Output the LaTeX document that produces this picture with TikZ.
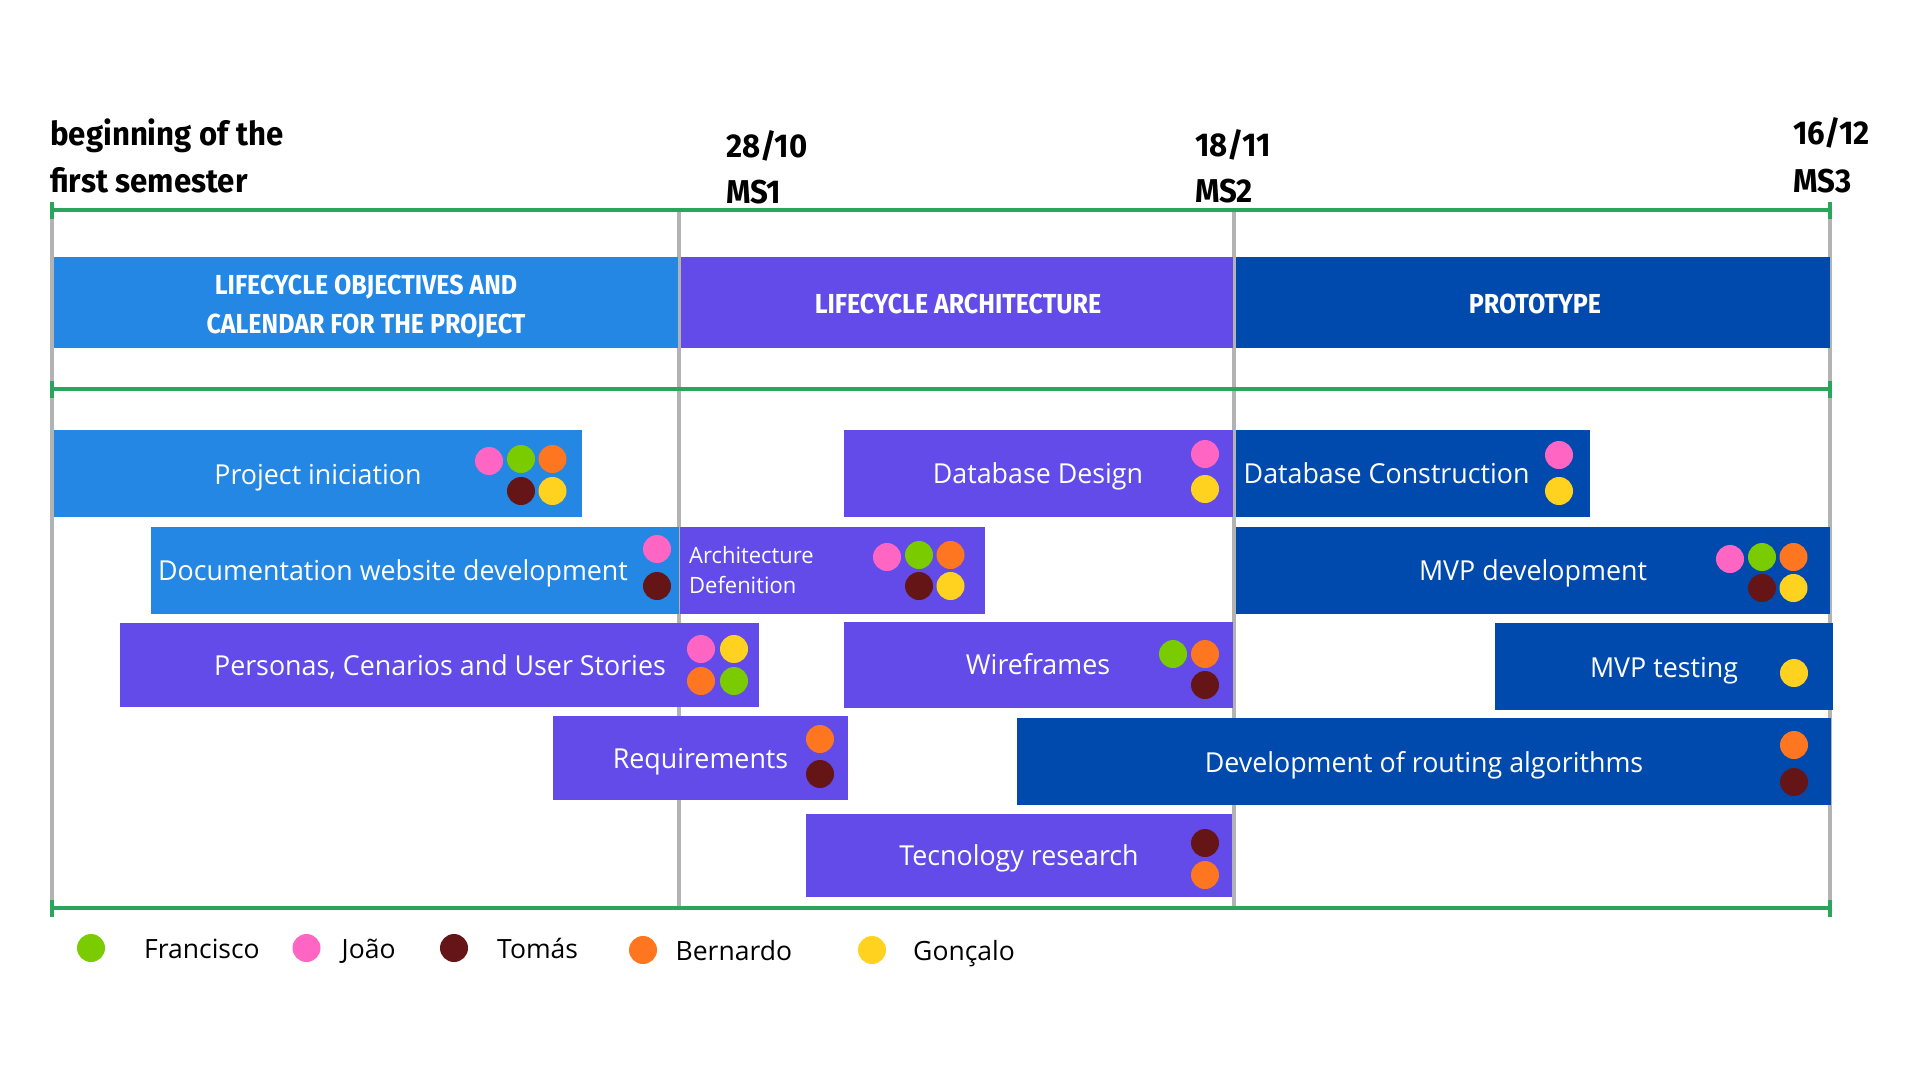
\documentclass[tikz,border=0pt]{standalone}
\usepackage{fontspec}
\setmainfont{Open Sans}
\newfontfamily\taskfont{Open Sans}[FakeStretch=0.975]
\newfontfamily\headfont{Fira Sans}[FakeStretch=0.945]
\newfontfamily\phasefont{Fira Sans}[FakeStretch=0.91]
\definecolor{cLight}{HTML}{2387E3}
\definecolor{cPurple}{HTML}{624BE8}
\definecolor{cDark}{HTML}{004AAD}
\definecolor{cGreenLine}{HTML}{2BA55B}
\definecolor{cGray}{HTML}{B3B3B3}
\definecolor{dGreen}{HTML}{7ACC00}
\definecolor{dPink}{HTML}{FF66C4}
\definecolor{dBrown}{HTML}{661516}
\definecolor{dOrange}{HTML}{FF7620}
\definecolor{dYellow}{HTML}{FFD220}
\tikzset{
  bar/.style={draw=none, inner sep=0pt, outer sep=0pt, rectangle},
  tasktxt/.style={anchor=base, text=white, inner sep=0pt, font=\taskfont\fontsize{27.5}{33}\selectfont},
  archtxt/.style={anchor=base west, text=white, inner sep=0pt, font=\taskfont\fontsize{22.5}{27}\selectfont},
  phasetxt/.style={anchor=base, text=white, inner sep=0pt, font=\phasefont\bfseries\fontsize{27.5}{33}\selectfont},
  toptxt/.style={anchor=base west, text=black, inner sep=0pt, font=\headfont\bfseries\fontsize{33}{40}\selectfont},
  legtxt/.style={anchor=base west, text=black, inner sep=0pt, font=\fontsize{26.5}{32}\selectfont},
  dot/.style={circle, draw=none, inner sep=0pt, minimum size=28pt},
  gline/.style={cGray, line width=4pt},
  tline/.style={cGreenLine, line width=4.7pt},
  tick/.style={cGreenLine, line width=3.8pt},
}
\newcommand{\barbox}[6]{% name, color, x1, y1, x2, y2
  \node[bar, fill=#2, minimum width={(#5)-(#3)}, minimum height={(#6)-(#4)}] (#1) at ({((#3)+(#5))/2},{((#4)+(#6))/2}) {};}
\begin{document}
\begin{tikzpicture}[x=1pt,y=-1pt]
\useasboundingbox (0,0) rectangle (1920,1080);
\fill[white] (0,0) rectangle (1920,1080);
% coordinates of the grid
\coordinate (g0t) at (52,210);  \coordinate (g0b) at (52,908);
\coordinate (g1t) at (679,210); \coordinate (g1b) at (679,908);
\coordinate (g2t) at (1234,210); \coordinate (g2b) at (1234,908);
\coordinate (g3t) at (1830,210); \coordinate (g3b) at (1830,908);
\coordinate (m0) at (52,389); \coordinate (m3) at (1830,389);
% gray vertical lines
\draw[gline] (g0t) -- (g0b);
\draw[gline] (g1t) -- (g1b);
\draw[gline] (g2t) -- (g2b);
\draw[gline] (g3t) -- (g3b);
% green horizontal lines
\draw[tline] (g0t) -- (g3t);
\draw[tline] (m0) -- (m3);
\draw[tline] (g0b) -- (g3b);
\foreach \p in {g0t,g3t,m0,m3,g0b,g3b}{
  \draw[tick] ([yshift=-8.5pt]\p) -- ([yshift=8.5pt]\p);
}
% header texts
\node[toptxt] (h1a) at (50,145) {beginning of the};
\node[toptxt] (h1b) at (50,192) {first semester};
\node[toptxt] (h2a) at (726,157) {28/10};
\node[toptxt] (h2b) at (726,203) {MS1};
\node[toptxt] (h3a) at (1195,156) {18/11};
\node[toptxt] (h3b) at (1195,202) {MS2};
\node[toptxt] (h4a) at (1793,144) {16/12};
\node[toptxt] (h4b) at (1793,192) {MS3};
% phase bars
\barbox{p1}{cLight}{54}{257}{678}{348}
\barbox{p2}{cPurple}{681}{257}{1233}{348}
\barbox{p3}{cDark}{1236}{257}{1830}{348}
\node[phasetxt] (p1a) at (366,294) {LIFECYCLE OBJECTIVES AND};
\node[phasetxt] (p1b) at (366,333) {CALENDAR FOR THE PROJECT};
\node[phasetxt] (p2a) at (958,313) {LIFECYCLE ARCHITECTURE};
\node[phasetxt] (p3a) at (1535,313) {PROTOTYPE};
% task bars
\barbox{t1}{cLight}{54}{430}{582}{517}
\barbox{t2}{cLight}{151}{527}{679}{614}
\barbox{t3}{cPurple}{680}{527}{985}{614}
\barbox{t4}{cPurple}{120}{623}{759}{707}
\barbox{t5}{cPurple}{553}{716}{848}{800}
\barbox{t6}{cPurple}{844}{430}{1233}{517}
\barbox{t7}{cPurple}{844}{622}{1233}{708}
\barbox{t8}{cPurple}{806}{814}{1232}{897}
\barbox{t9}{cDark}{1236}{430}{1590}{517}
\barbox{t10}{cDark}{1236}{527}{1830}{614}
\barbox{t11}{cDark}{1495}{623}{1833}{710}
\barbox{t12}{cDark}{1017}{718}{1831}{805}
% task texts
\node[tasktxt] (t1t) at (318,484) {Project iniciation};
\node[tasktxt] (t2t) at (393,580) {Documentation website development};
\node[archtxt] (t3a) at (689,563) {Architecture};
\node[archtxt] (t3b) at (689,593) {Defenition};
\node[tasktxt] (t4t) at (440,675) {Personas, Cenarios and User Stories};
\node[tasktxt] (t5t) at (700.5,768) {Requirements};
\node[tasktxt] (t6t) at (1038,483) {Database Design};
\node[tasktxt] (t7t) at (1038,674) {Wireframes};
\node[tasktxt] (t8t) at (1019,865) {Tecnology research};
\node[tasktxt, anchor=base west] (t9t) at (1243.5,483) {Database Construction};
\node[tasktxt] (t10t) at (1533,580) {MVP development};
\node[tasktxt] (t11t) at (1664,677) {MVP testing};
\node[tasktxt] (t12t) at (1424,772) {Development of routing algorithms};
% dots
\node[dot, fill=dPink]   (d1p) at (489,461) {};
\node[dot, fill=dGreen]  (d1g) at (521,459) {};
\node[dot, fill=dOrange] (d1o) at (552.5,459) {};
\node[dot, fill=dBrown]  (d1b) at (521,491) {};
\node[dot, fill=dYellow] (d1y) at (552.5,491) {};
\node[dot, fill=dPink]   (d2p) at (657,549) {};
\node[dot, fill=dBrown]  (d2b) at (657,586) {};
\node[dot, fill=dPink]   (d3p) at (887,557) {};
\node[dot, fill=dGreen]  (d3g) at (919,555) {};
\node[dot, fill=dOrange] (d3o) at (950.5,555) {};
\node[dot, fill=dBrown]  (d3b) at (919,586) {};
\node[dot, fill=dYellow] (d3y) at (950.5,586) {};
\node[dot, fill=dPink]   (d4p) at (701,649) {};
\node[dot, fill=dYellow] (d4y) at (734,649) {};
\node[dot, fill=dOrange] (d4o) at (701,681) {};
\node[dot, fill=dGreen]  (d4g) at (734,681) {};
\node[dot, fill=dOrange] (d5o) at (820,739) {};
\node[dot, fill=dBrown]  (d5b) at (820,774) {};
\node[dot, fill=dPink]   (d6p) at (1205,454) {};
\node[dot, fill=dYellow] (d6y) at (1205,489) {};
\node[dot, fill=dGreen]  (d7g) at (1173,654) {};
\node[dot, fill=dOrange] (d7o) at (1205,654) {};
\node[dot, fill=dBrown]  (d7b) at (1205,685) {};
\node[dot, fill=dBrown]  (d8b) at (1205,843) {};
\node[dot, fill=dOrange] (d8o) at (1205,875) {};
\node[dot, fill=dPink]   (d9p) at (1559,455) {};
\node[dot, fill=dYellow] (d9y) at (1559,491) {};
\node[dot, fill=dPink]   (d10p) at (1730,559) {};
\node[dot, fill=dGreen]  (d10g) at (1762,557) {};
\node[dot, fill=dOrange] (d10o) at (1793.5,557) {};
\node[dot, fill=dBrown]  (d10b) at (1762,588) {};
\node[dot, fill=dYellow] (d10y) at (1793.5,588) {};
\node[dot, fill=dYellow] (d11y) at (1794,673) {};
\node[dot, fill=dOrange] (d12o) at (1794,745) {};
\node[dot, fill=dBrown]  (d12b) at (1794,782) {};
% legend
\node[dot, fill=dGreen]  (lg) at (91,948) {};
\node[legtxt] (lgt) at (144,958) {Francisco};
\node[dot, fill=dPink]   (lp) at (306.5,948) {};
\node[legtxt] (lpt) at (341.5,958) {João};
\node[dot, fill=dBrown]  (lb) at (454,948) {};
\node[legtxt] (lbt) at (497,958) {Tomás};
\node[dot, fill=dOrange] (lo) at (643,950) {};
\node[legtxt] (lot) at (675.5,960) {Bernardo};
\node[dot, fill=dYellow] (ly) at (872,950) {};
\node[legtxt] (lyt) at (913,960) {Gonçalo};
\end{tikzpicture}
\end{document}
